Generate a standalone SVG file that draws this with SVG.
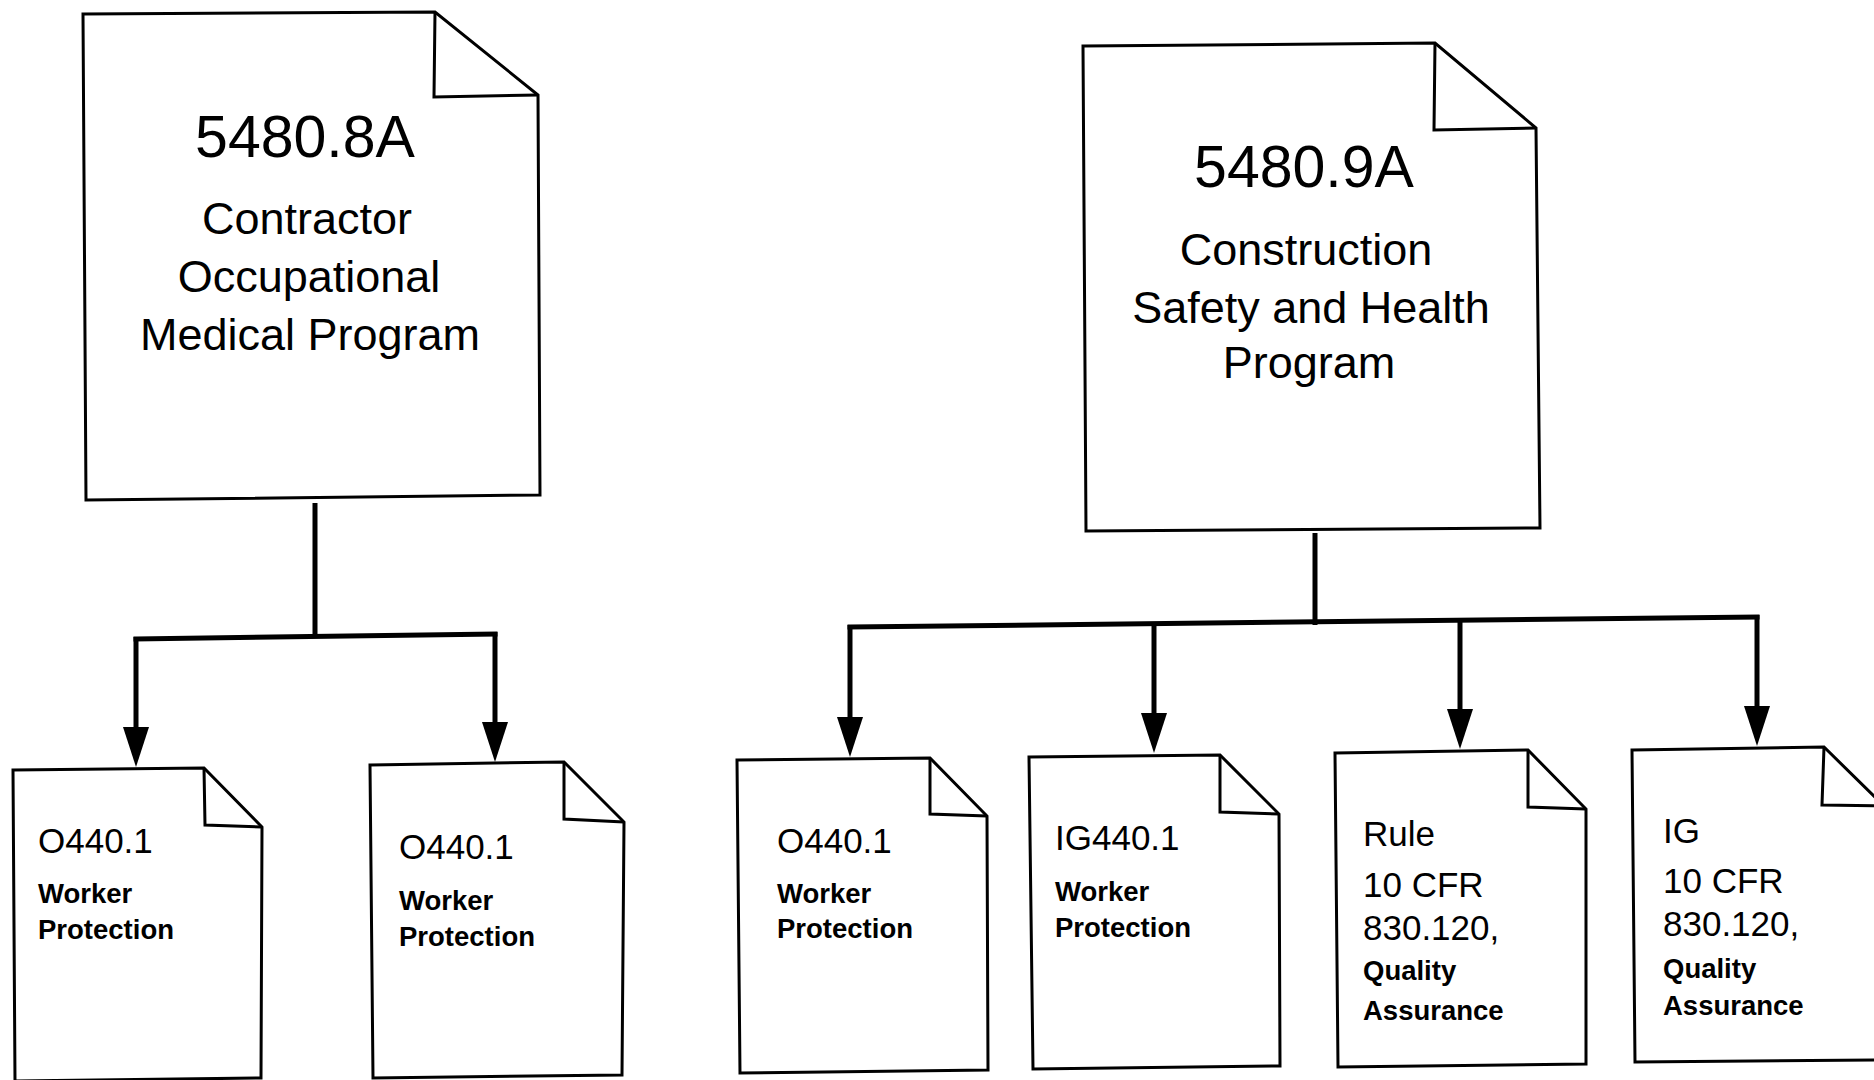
<svg xmlns="http://www.w3.org/2000/svg" width="1874" height="1080" viewBox="0 0 1874 1080">
<style>
.doc{fill:#fff;stroke:#000;stroke-width:3;stroke-linejoin:miter}
.fold{fill:none;stroke:#000;stroke-width:3}
.conn{fill:none;stroke:#000;stroke-width:5;stroke-linecap:square}
.drop{fill:none;stroke:#000;stroke-width:5;stroke-linecap:butt}
text{font-family:"Liberation Sans",Arial,Helvetica,sans-serif;fill:#000}
.title{font-size:59px;text-anchor:middle}
.sub{font-size:45px;text-anchor:middle}
.code{font-size:35px}
.desc{font-size:27.5px;font-weight:bold}
</style>
<defs>
<marker id="arrow" markerUnits="userSpaceOnUse" markerWidth="40" markerHeight="26" viewBox="0 -13 40 26" refX="0" refY="0" orient="auto" overflow="visible">
<path d="M0,-13 L40,0 L0,13 Z" fill="#000"/>
</marker>
</defs>
<rect width="1874" height="1080" fill="#fff"/>

<g id="connectors">
<path class="drop" d="M315,503 V637"/>
<path class="conn" d="M136,639 L495,634"/>
<path class="drop" d="M136,637 V727" marker-end="url(#arrow)"/>
<path class="drop" d="M495,632 V722" marker-end="url(#arrow)"/>
<path class="drop" d="M1315,533 V625"/>
<path class="conn" d="M850,627 L1757,617"/>
<path class="drop" d="M850,625 V717" marker-end="url(#arrow)"/>
<path class="drop" d="M1154,622 V713" marker-end="url(#arrow)"/>
<path class="drop" d="M1460,618 V709" marker-end="url(#arrow)"/>
<path class="drop" d="M1757,615 V706" marker-end="url(#arrow)"/>
</g>

<g id="doc-5480-8A">
<path class="doc" d="M83,14 L435,12 L538,95 L540,495 L86,500 Z"/>
<path class="fold" d="M435,12 L434,97 L538,95"/>
<text class="title" x="305" y="157">5480.8A</text>
<text class="sub" x="307" y="234">Contractor</text>
<text class="sub" x="309" y="292">Occupational</text>
<text class="sub" x="310" y="350">Medical Program</text>
</g>

<g id="doc-5480-9A">
<path class="doc" d="M1083,46 L1435,43 L1536,128 L1540,528 L1086,531 Z"/>
<path class="fold" d="M1435,43 L1434,130 L1536,128"/>
<text class="title" x="1304" y="187">5480.9A</text>
<text class="sub" x="1306" y="265">Construction</text>
<text class="sub" x="1311" y="323">Safety and Health</text>
<text class="sub" x="1309" y="378">Program</text>
</g>

<g id="child-1">
<path class="doc" d="M13,770 L204,768 L262,827 L261,1078 L15,1081 Z"/>
<path class="fold" d="M204,768 L205,825 L262,827"/>
<text class="code" x="38" y="853">O440.1</text>
<text class="desc" x="38" y="903">Worker</text>
<text class="desc" x="38" y="939">Protection</text>
</g>

<g id="child-2">
<path class="doc" d="M370,765 L564,762 L624,822 L622,1075 L373,1078 Z"/>
<path class="fold" d="M564,762 L564,819 L624,822"/>
<text class="code" x="399" y="859">O440.1</text>
<text class="desc" x="399" y="910">Worker</text>
<text class="desc" x="399" y="946">Protection</text>
</g>

<g id="child-3">
<path class="doc" d="M737,760 L930,758 L987,816 L988,1070 L740,1073 Z"/>
<path class="fold" d="M930,758 L930,814 L987,816"/>
<text class="code" x="777" y="853">O440.1</text>
<text class="desc" x="777" y="903">Worker</text>
<text class="desc" x="777" y="938">Protection</text>
</g>

<g id="child-4">
<path class="doc" d="M1029,757 L1220,755 L1279,814 L1280,1066 L1033,1069 Z"/>
<path class="fold" d="M1220,755 L1220,812 L1279,814"/>
<text class="code" x="1055" y="850">IG440.1</text>
<text class="desc" x="1055" y="901">Worker</text>
<text class="desc" x="1055" y="937">Protection</text>
</g>

<g id="child-5">
<path class="doc" d="M1335,753 L1528,750 L1586,809 L1586,1064 L1338,1067 Z"/>
<path class="fold" d="M1528,750 L1528,807 L1586,809"/>
<text class="code" x="1363" y="846">Rule</text>
<text class="code" x="1363" y="897">10 CFR</text>
<text class="code" x="1363" y="940">830.120,</text>
<text class="desc" x="1363" y="980">Quality</text>
<text class="desc" x="1363" y="1020">Assurance</text>
</g>

<g id="child-6">
<path class="doc" d="M1632,750 L1824,747 L1884,806 L1884,1060 L1635,1062 Z"/>
<path class="fold" d="M1824,747 L1822,805 L1884,806"/>
<text class="code" x="1663" y="843">IG</text>
<text class="code" x="1663" y="893">10 CFR</text>
<text class="code" x="1663" y="936">830.120,</text>
<text class="desc" x="1663" y="978">Quality</text>
<text class="desc" x="1663" y="1015">Assurance</text>
</g>
</svg>
